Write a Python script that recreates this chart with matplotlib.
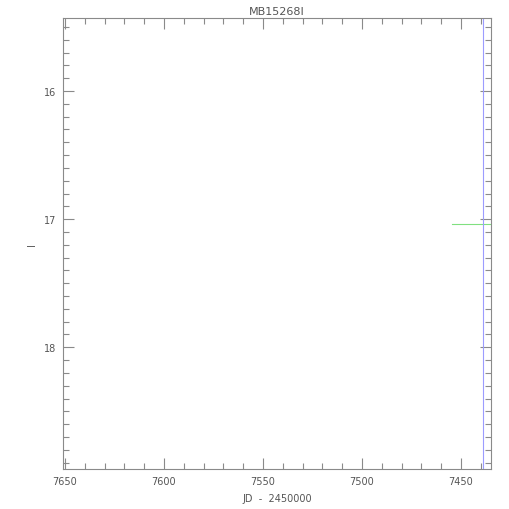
import matplotlib
matplotlib.use('Agg')
from matplotlib import pyplot as plt
import numpy as np

# data
jd = [7454.5, 7430.0]
mag = [17.04, 17.04]
jd_mark = 7439.0
title = 'MB15268I'

grey = '#8a8a8a'
txt = '#555555'

fig = plt.figure(figsize=(5.1, 5.1), dpi=100)
ax = fig.add_axes([63/510, 1-470/510, (491-63)/510, (470-19)/510])

ax.plot(jd, mag, color='#80e080', linewidth=0.8)
ax.axvline(jd_mark, color='#9c9cff', linewidth=0.8)

ax.set_xlim(7651, 7434.8)
ax.set_ylim(18.95, 15.43)

ax.xaxis.set_major_locator(plt.MultipleLocator(50))
ax.xaxis.set_minor_locator(plt.MultipleLocator(10))
ax.yaxis.set_major_locator(plt.MultipleLocator(1))
ax.yaxis.set_minor_locator(plt.MultipleLocator(0.1))
ax.tick_params(which='both', direction='in', top=True, right=True,
               color=grey, width=0.8, labelsize=7, labelcolor=txt, pad=5)
ax.tick_params(which='major', length=8)
ax.tick_params(which='minor', length=4)
for s in ax.spines.values():
    s.set_color(grey)
    s.set_linewidth(0.8)

ax.set_title(title, fontsize=8, color=txt, pad=3)
ax.set_xlabel('JD  -  2450000', fontsize=7, color=txt, labelpad=5)
ax.set_ylabel('I', fontsize=7, color=txt, labelpad=5)

plt.savefig('out.png', dpi=100)
